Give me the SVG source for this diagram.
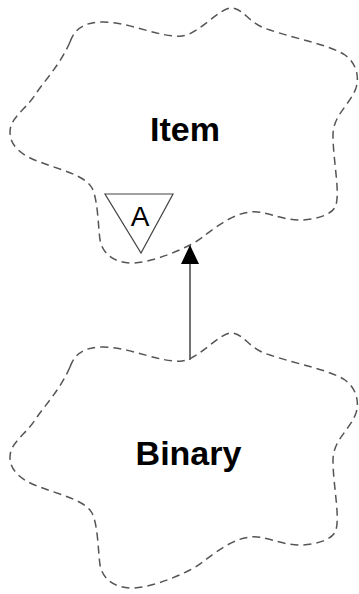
<svg xmlns="http://www.w3.org/2000/svg" width="359" height="594" viewBox="0 0 359 594">
<defs>
<style>
.cloud{fill:none;stroke:#555;stroke-width:1.5;stroke-dasharray:8,5}
.lbl{font-family:"Liberation Sans",Arial,sans-serif;font-weight:bold;font-size:34px;fill:#000;text-anchor:middle}
.conn{stroke:#444;stroke-width:1.5;fill:none}
</style>
<path id="cloudShape" d="M 70,42 C 75,28 85,22 103,22 C 130,22 160,38 182,36 C 200,34 220,6 233,8 C 245,10 250,25 270,30 C 300,40 330,45 345,55 C 355,62 360,75 356,88 C 350,105 333,115 333,135 C 333,160 340,190 336,205 C 333,215 315,220 300,220 C 280,220 265,210 250,212 C 225,215 205,238 190,245 C 170,255 150,262 133,263 C 115,263 103,255 100,240 C 98,225 98,200 92,188 C 85,175 60,170 40,162 C 20,155 10,145 10,132 C 10,118 25,110 35,95 C 45,80 60,65 70,42 Z"/>
<marker id="arrow" markerWidth="19" markerHeight="18" refX="19" refY="9" orient="auto" markerUnits="userSpaceOnUse">
<path d="M0,0 L19,9 L0,18 Z" fill="#000"/>
</marker>
</defs>
<g id="connectors">
<line class="conn" x1="190" y1="360" x2="190" y2="245" marker-end="url(#arrow)"/>
</g>
<g id="item">
<use href="#cloudShape" class="cloud"/>
<text class="lbl" x="185" y="141">Item</text>
<polygon points="105,194 173,194 141,253" fill="#fff" stroke="#444" stroke-width="1.2"/>
<text x="140" y="226" font-family="'Liberation Sans',Arial,sans-serif" font-size="28" text-anchor="middle" fill="#000">A</text>
</g>
<g id="binary">
<use href="#cloudShape" class="cloud" transform="translate(0,325)"/>
<text class="lbl" x="188.5" y="465">Binary</text>
</g>
</svg>
